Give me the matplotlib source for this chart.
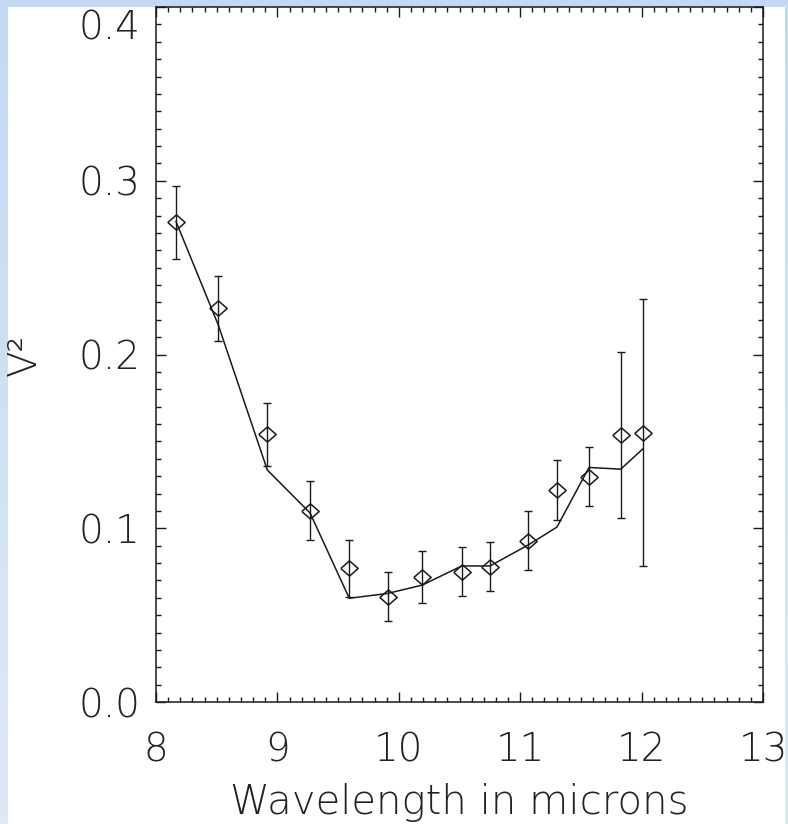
import numpy as np
import matplotlib.pyplot as plt
import matplotlib.transforms as mtransforms
from matplotlib.patches import Rectangle
from matplotlib.ticker import MultipleLocator, FixedFormatter, FixedLocator

# Measured squared visibilities and model curve
wavelength = [8.165, 8.513, 8.917, 9.269, 9.592, 9.909, 10.194, 10.518,
              10.751, 11.067, 11.303, 11.567, 11.828, 12.009]
v2 = [0.276, 0.2265, 0.154, 0.110, 0.0769, 0.0606, 0.0718, 0.075,
      0.0779, 0.0928, 0.122, 0.1297, 0.1537, 0.155]
v2_err = [0.021, 0.0187, 0.018, 0.017, 0.0165, 0.0141, 0.015, 0.014,
          0.014, 0.017, 0.017, 0.017, 0.048, 0.077]
v2_model = [0.2765, 0.217, 0.1335, 0.1088, 0.0597, 0.0625, 0.0673, 0.0783,
            0.0783, 0.0904, 0.1007, 0.135, 0.134, 0.1456]

x_ticks = [8, 9, 10, 11, 12, 13]
y_ticks = [0.0, 0.1, 0.2, 0.3, 0.4]
y_ticklabels = ['0.0', '0.1', '0.2', '0.3', '0.4']

W, H = 788, 824
fig = plt.figure(figsize=(W / 100, H / 100), dpi=100)

# slide background: pale blue gradient with a white panel on top
top_c = np.array([196, 217, 240]) / 255
bot_c = np.array([222, 233, 246]) / 255
grad = np.linspace(0, 1, 256)[:, None, None]
img = top_c[None, None, :] * (1 - grad) + bot_c[None, None, :] * grad
img = np.repeat(img, 2, axis=1)

bg = fig.add_axes([0, 0, 1, 1], zorder=-10)
bg.imshow(img, aspect='auto', extent=[0, 1, 0, 1])
bg.add_patch(Rectangle((8 / W, 0), (785 - 8) / W, 1 - 7 / H,
                       facecolor='white', edgecolor='none'))
bg.set_xlim(0, 1)
bg.set_ylim(0, 1)
bg.axis('off')

# right-hand strip sits over everything (it trims the last tick label)
fg = fig.add_axes([785 / W, 0, 1 - 785 / W, 1], zorder=10)
fg.imshow(img, aspect='auto', extent=[0, 1, 0, 1])
fg.axis('off')

ax = fig.add_axes([156 / W, 1 - 702 / H, (763 - 156) / W, (702 - 7) / H])
ax.patch.set_alpha(0)

fcol = '#1a1a1a'
tcol = '#222222'
diamond = [(-1, 0), (0, 0.88), (1, 0), (0, -0.88), (-1, 0)]

ax.plot(wavelength, v2_model, color=fcol, lw=1.1, zorder=2)
ax.errorbar(wavelength, v2, yerr=v2_err, fmt='none', ecolor=fcol,
            elinewidth=1.0, capsize=3, capthick=1.0, zorder=3)
ax.plot(wavelength, v2, linestyle='none', marker=diamond, markersize=12.5,
        markerfacecolor='none', markeredgecolor=fcol, markeredgewidth=1.1,
        zorder=4)

ax.set_xlim(8, 13)
ax.set_ylim(0, 0.4)
ax.xaxis.set_major_locator(FixedLocator(x_ticks))
ax.xaxis.set_minor_locator(MultipleLocator(0.1))
ax.yaxis.set_major_locator(FixedLocator(y_ticks))
ax.yaxis.set_major_formatter(FixedFormatter(y_ticklabels))
ax.yaxis.set_minor_locator(MultipleLocator(0.01))

ax.tick_params(which='both', direction='in', top=True, right=True,
               color=fcol, width=1.0)
ax.tick_params(which='major', length=7)
ax.tick_params(which='minor', length=3.5)
ax.tick_params(axis='x', which='major', pad=21, labelsize=28, labelcolor=tcol)
ax.tick_params(axis='y', which='major', pad=11, labelsize=28, labelcolor=tcol)

for s in ax.spines.values():
    s.set_linewidth(1.1)
    s.set_color(fcol)

# thin lettering, and the top y label pushed down into the panel
fig.canvas.draw()
for lab in ax.get_xticklabels() + ax.get_yticklabels():
    lab.set_fontweight('light')
shift = mtransforms.ScaledTranslation(0, -17 / 100, fig.dpi_scale_trans)
top_lab = ax.yaxis.get_majorticklabels()[-1]
top_lab.set_transform(top_lab.get_transform() + shift)

ax.set_xlabel('Wavelength in microns', fontsize=29, color=tcol,
              fontweight='light', labelpad=10)
ax.set_ylabel('V²', fontsize=28, color=tcol, fontweight='light')
ax.yaxis.set_label_coords((44 - 156) / (763 - 156), 0.5)

fig.savefig('out.png', dpi=100)
